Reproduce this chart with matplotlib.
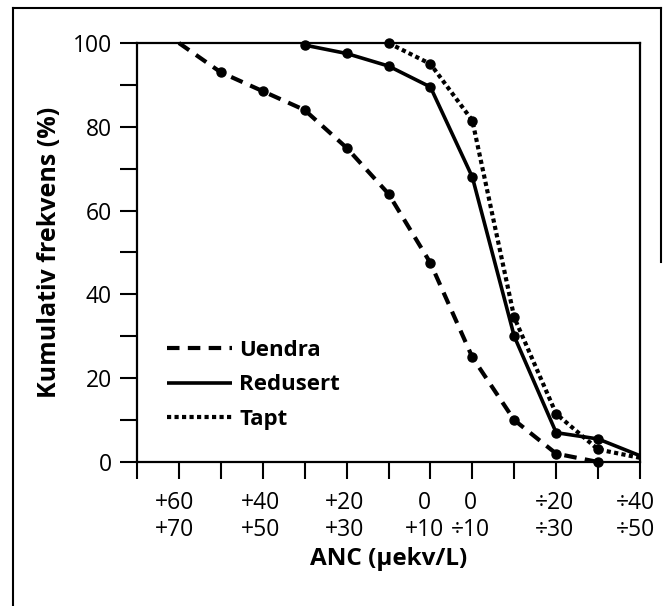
import matplotlib.pyplot as plt
from matplotlib.lines import Line2D

plt.rcParams['font.family'] = ['Open Sans', 'DejaVu Sans']

# x-posisjon: klassenummer langs ANC-aksen (0..12)
x_uendra = [1, 2, 3, 4, 5, 6, 7, 8, 9, 10, 11]
uendra = [100, 93, 88.5, 84, 75, 64, 47.5, 25, 10, 2, 0]

x_redusert = [4, 5, 6, 7, 8, 9, 10, 11, 12]
redusert = [99.5, 97.5, 94.5, 89.5, 68, 30, 7, 5.5, 1.5]

x_tapt = [6, 7, 8, 9, 10, 11, 12]
tapt = [100, 95, 81.5, 34.5, 11.5, 3, 1]

tick_pos = [0.9, 2.95, 4.95, 6.85, 7.95, 9.95, 11.9]
tick_labels = ['+60\n+70', '+40\n+50', '+20\n+30', '0\n+10', '0\n÷10', '÷20\n÷30', '÷40\n÷50']

fig = plt.figure(figsize=(6.64, 6.06), dpi=100)
ax = fig.add_axes([137/664, 144/606, 503/664, 419/606])

ax.plot(x_uendra, uendra, color='black', lw=3, dashes=(3, 2), dash_capstyle='butt',
        marker='o', ms=6.5, markevery=list(range(1, 11)), clip_on=False, label='Uendra')
ax.plot(x_redusert, redusert, color='black', lw=2.6, solid_capstyle='butt',
        marker='o', ms=6.5, markevery=list(range(0, 8)), clip_on=False, label='Redusert')
ax.plot(x_tapt, tapt, color='black', lw=3, dashes=(1, 0.8), dash_capstyle='butt',
        marker='o', ms=6.5, markevery=list(range(0, 6)), clip_on=False, label='Tapt')

ax.set_xlim(0, 12)
ax.set_ylim(0, 100)

ax.set_xticks(tick_pos, tick_labels)
ax.set_xticks(range(13), minor=True)
ax.tick_params(axis='x', which='major', length=0, pad=21, labelsize=16.5)
ax.tick_params(axis='x', which='minor', length=12, width=1.5, direction='out')
for lab in ax.get_xticklabels():
    lab.set_linespacing(1.15)
    lab.set_fontweight('medium')

ax.set_yticks(range(0, 101, 20))
ax.set_yticks(range(0, 101, 10), minor=True)
ax.tick_params(axis='y', which='both', length=12, width=1.5, direction='out', pad=6, labelsize=16.5)
for lab in ax.get_yticklabels():
    lab.set_fontweight('medium')

for sp in ax.spines.values():
    sp.set_linewidth(1.6)

ax.set_ylabel('Kumulativ frekvens (%)', fontsize=18, fontweight='bold', labelpad=8)
ax.set_xlabel('ANC (μekv/L)', fontsize=17.5, fontweight='bold', labelpad=4)

leg = ax.legend(loc='center left', bbox_to_anchor=(0.06, 0.184), frameon=False,
                fontsize=16, handlelength=2.9, handletextpad=0.35, labelspacing=0.6,
                borderpad=0, borderaxespad=0)
for t in leg.get_texts():
    t.set_fontweight('bold')
for h in leg.legend_handles:
    h.set_marker('')

# ramme rundt figuren
fig.add_artist(Line2D([13/664, 13/664], [0, 1 - 8/606], color='black', lw=1.5))
fig.add_artist(Line2D([13/664, 661/664], [1 - 8/606, 1 - 8/606], color='black', lw=1.5))
fig.add_artist(Line2D([661/664, 661/664], [1 - 8/606, 1 - 262/606], color='black', lw=1.5))

fig.savefig('out.png', dpi=100)
